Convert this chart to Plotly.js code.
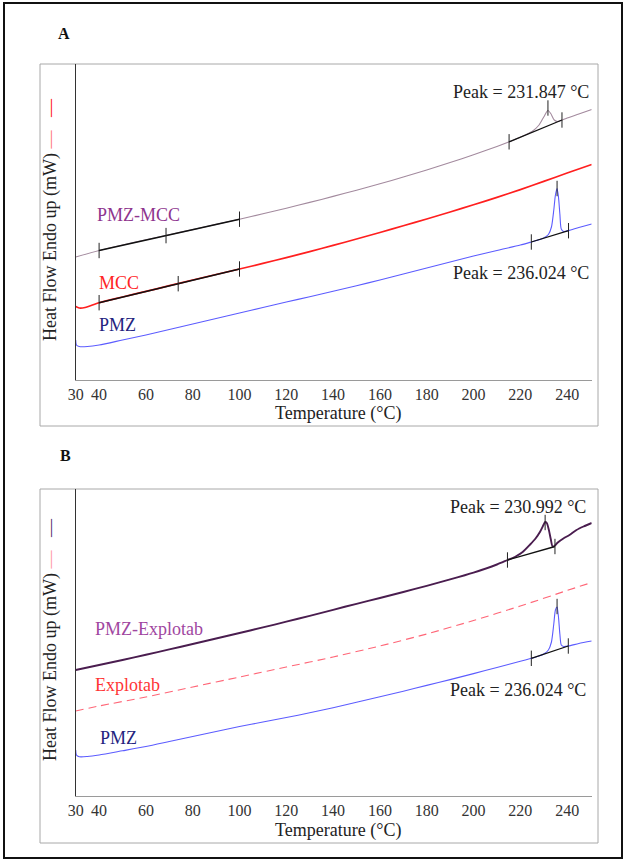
<!DOCTYPE html>
<html>
<head>
<meta charset="utf-8">
<script src="https://cdn.plot.ly/plotly-3.0.1.min.js"></script>
<style>html,body{margin:0;padding:0;background:#fff;}#chart{width:629px;height:863px;}</style>
</head>
<body>
<div id="chart"></div>
<script>
// ---------- tick labels ----------
const tickVals = [30, 40, 60, 80, 100, 120, 140, 160, 180, 200, 220, 240];
const tickText = ["30", "40", "60", "80", "100", "120", "140", "160", "180", "200", "220", "240"];

// ---------- Panel A ----------
const tA_pmzmcc = [30,40,50,60,70,80,90,100,110,120,130,140,150,160,170,180,190,200,210,215,220,225,228,230,231.8,233,234.5,236,238,240,245,250.5];
const yA_pmzmcc = [12.3,12.95,13.5,14.02,14.53,15.04,15.56,16.08,16.62,17.18,17.76,18.36,18.98,19.62,20.3,21.0,21.74,22.52,23.35,23.8,24.28,24.85,25.5,26.3,26.95,26.65,26.0,25.85,26.0,26.2,26.6,27.05];

const tA_mcc = [30,31.5,34,40,50,60,70,80,90,100,110,120,130,140,150,160,170,180,190,200,210,220,230,240,250.5];
const yA_mcc = [7.35,7.2,7.25,7.73,8.3,8.86,9.43,10.0,10.55,11.1,11.66,12.24,12.84,13.46,14.1,14.75,15.42,16.1,16.8,17.52,18.26,19.04,19.86,20.7,21.55];

const tA_pmz = [30,30.3,31.5,35,40,50,60,70,80,90,100,110,120,130,140,150,160,170,180,190,200,210,220,224.7,228,230,232,233.3,234.3,235.0,235.7,236.3,236.9,237.5,238.5,240.6,245,250.5];
const yA_pmz = [4.0,3.5,3.35,3.35,3.5,4.0,4.5,5.05,5.6,6.15,6.7,7.25,7.8,8.33,8.87,9.43,10.0,10.6,11.2,11.8,12.4,12.95,13.5,13.8,14.02,14.2,14.55,15.3,17.0,18.5,19.15,18.3,16.6,15.1,14.85,14.93,15.25,15.6];

// tangent / onset analysis lines, panel A
const tA_tan1 = [40, 100];        const yA_tan1 = [12.95, 16.08];
const tA_tan1m = [40, 68.6, 100]; const yA_tan1m = [12.95, 14.44, 16.08];
const tA_tan2 = [215.2, 237.8];   const yA_tan2 = [23.82, 26.0];
const tA_tan2m = [215.2, 231.8, 237.8]; const yA_tan2m = [23.82, 27.2, 26.0];
const tA_tan3 = [40, 100];        const yA_tan3 = [7.73, 11.1];
const tA_tan3m = [40, 73.8, 100]; const yA_tan3m = [7.73, 9.63, 11.1];
const tA_tan4 = [224.7, 240.6];   const yA_tan4 = [13.8, 14.93];
const tA_tan4m = [224.7, 235.7, 240.6]; const yA_tan4m = [13.8, 19.15, 14.93];

// ---------- Panel B ----------
const tB_pmzexp = [30,40,50,60,70,80,90,100,110,120,130,140,150,160,170,180,190,200,210,214.5,218,221,224.2,226.5,228.5,230,230.6,231.3,232.2,233,233.8,234.8,236,238.4,241,244,247,250.5];
const yB_pmzexp = [12.6,13.1,13.6,14.13,14.66,15.2,15.75,16.3,16.86,17.43,18.02,18.62,19.22,19.8,20.4,21.02,21.66,22.34,23.15,23.6,23.95,24.4,25.15,25.75,26.45,27.15,27.4,27.3,26.6,25.7,24.95,25.05,25.35,25.75,26.1,26.6,26.95,27.3];

const tB_exp = [30,40,60,80,100,120,140,160,180,200,220,240,250.5];
const yB_exp = [8.5,9.0,9.9,10.9,11.9,12.9,13.9,15.0,16.2,17.55,19.0,20.55,21.35];

const tB_pmz = [30,30.3,31.5,35,40,50,60,70,80,90,100,110,120,130,140,150,160,170,180,190,200,210,220,224.7,228,230,232,233.3,234.3,235.0,235.7,236.3,236.9,237.5,238.5,240.5,245,250.5];
const yB_pmz = [4.6,4.1,3.93,3.95,4.1,4.52,4.95,5.45,5.95,6.45,6.95,7.4,7.85,8.32,8.83,9.37,9.92,10.48,11.06,11.64,12.24,12.85,13.47,13.77,14.0,14.2,14.6,15.4,17.2,18.6,18.9,17.9,16.2,15.1,14.95,15.0,15.25,15.5];

const tB_tan1 = [214.5, 234.8];   const yB_tan1 = [23.6, 24.95];
const tB_tan1m = [214.5, 230.6, 234.8]; const yB_tan1m = [23.6, 27.35, 24.95];
const tB_tan2 = [224.7, 240.5];   const yB_tan2 = [13.77, 15.0];
const tB_tan2m = [224.7, 235.7, 240.5]; const yB_tan2m = [13.77, 18.95, 15.0];

// ---------- helpers ----------
const W = 629, H = 863;
const PX = x => x / W;
const PY = y => 1 - y / H;
const SERIF = "Liberation Serif, Times New Roman, serif";

function line(x, y, color, width, xa, ya, dash, smooth) {
  return {x: x, y: y, type: 'scatter', mode: 'lines', xaxis: xa, yaxis: ya,
          line: {color: color, width: width, dash: dash || 'solid', shape: smooth ? 'spline' : 'linear', smoothing: 0.7},
          hoverinfo: 'skip', showlegend: false};
}
function marks(x, y, xa, ya) {
  return {x: x, y: y, type: 'scatter', mode: 'markers', xaxis: xa, yaxis: ya,
          marker: {symbol: 'line-ns', size: 11, line: {color: '#222', width: 1}}, hoverinfo: 'skip', showlegend: false};
}

const data = [
  line(tA_pmzmcc, yA_pmzmcc, '#a38a9e', 1.1, 'x', 'y', null, true),
  line(tA_mcc, yA_mcc, '#ff1f1f', 1.7, 'x', 'y', null, true),
  line(tA_pmz, yA_pmz, '#5c5cff', 1.1, 'x', 'y', null, true),
  line(tA_tan1, yA_tan1, '#111', 1.4, 'x', 'y'), marks(tA_tan1m, yA_tan1m, 'x', 'y'),
  line(tA_tan2, yA_tan2, '#111', 1.3, 'x', 'y'), marks(tA_tan2m, yA_tan2m, 'x', 'y'),
  line(tA_tan3, yA_tan3, '#111', 1.4, 'x', 'y'), marks(tA_tan3m, yA_tan3m, 'x', 'y'),
  line(tA_tan4, yA_tan4, '#111', 1.3, 'x', 'y'), marks(tA_tan4m, yA_tan4m, 'x', 'y'),

  line(tB_pmzexp, yB_pmzexp, '#4a1d4f', 1.9, 'x2', 'y2', null, true),
  line(tB_exp, yB_exp, '#ff6677', 1.1, 'x2', 'y2', '8px,5px', true),
  line(tB_pmz, yB_pmz, '#5c5cff', 1.1, 'x2', 'y2', null, true),
  line(tB_tan1, yB_tan1, '#111', 1.3, 'x2', 'y2'), marks(tB_tan1m, yB_tan1m, 'x2', 'y2'),
  line(tB_tan2, yB_tan2, '#111', 1.3, 'x2', 'y2'), marks(tB_tan2m, yB_tan2m, 'x2', 'y2')
];

function xAxis(anchor) {
  return {domain: [PX(75.7), PX(591.7)], range: [30, 250.5], anchor: anchor,
          tickmode: 'array', tickvals: tickVals, ticktext: tickText,
          showline: true, linecolor: '#9a9a9a', linewidth: 1, mirror: false,
          ticks: '', ticklen: 0,
          showgrid: false, zeroline: false, fixedrange: true,
          tickfont: {family: SERIF, size: 16, color: '#333'}};
}
function yAxis(anchor, dom, rng) {
  return {domain: dom, range: rng, anchor: anchor, showline: true, linecolor: '#333', linewidth: 1,
          showticklabels: false, ticks: '', showgrid: false, zeroline: false, fixedrange: true};
}

function txt(text, x, y, opts) {
  return Object.assign({text: text, x: PX(x), y: PY(y), xref: 'paper', yref: 'paper', showarrow: false,
          xanchor: 'center', yanchor: 'middle', font: {family: SERIF, size: 18, color: '#222'}}, opts || {});
}
const NB = '\u00a0';

const annotations = [
  txt('<b>A</b>', 64, 33, {font: {family: SERIF, size: 16, color: '#111'}}),
  txt('<b>B</b>', 65, 456, {font: {family: SERIF, size: 16, color: '#111'}}),
  txt('Temperature (°C)', 338, 414),
  txt('Temperature (°C)', 338, 830),
  txt('Heat Flow Endo up (mW) <span style="color:#ff7878">—</span>' + NB + NB + NB + '<span style="color:#ff1010">—</span>', 50, 220, {textangle: -90}),
  txt('Heat Flow Endo up (mW) <span style="color:#ff9aa5">—</span>' + NB + NB + NB + '<span style="color:#5a2a6a">—</span>', 50, 640, {textangle: -90}),
  txt('Peak = 231.847 °C', 591, 92, {xanchor: 'right'}),
  txt('Peak = 236.024 °C', 591, 273, {xanchor: 'right'}),
  txt('Peak = 230.992 °C', 588, 507, {xanchor: 'right'}),
  txt('Peak = 236.024 °C', 588, 690, {xanchor: 'right'}),
  txt('PMZ-MCC', 95, 215, {xanchor: 'left', font: {family: SERIF, size: 18, color: '#8e358e'}}),
  txt('MCC', 97, 283, {xanchor: 'left', font: {family: SERIF, size: 18, color: '#ff2424'}}),
  txt('PMZ', 97, 325, {xanchor: 'left', font: {family: SERIF, size: 18, color: '#24247e'}}),
  txt('PMZ-Explotab', 93, 629, {xanchor: 'left', font: {family: SERIF, size: 18, color: '#a046a0'}}),
  txt('Explotab', 93, 685, {xanchor: 'left', font: {family: SERIF, size: 18, color: '#ff3535'}}),
  txt('PMZ', 98, 738, {xanchor: 'left', font: {family: SERIF, size: 18, color: '#24247e'}})
];

function rect(x0, y0, x1, y1, color, width) {
  return {type: 'rect', xref: 'paper', yref: 'paper', x0: PX(x0), x1: PX(x1), y0: PY(y0), y1: PY(y1),
          line: {color: color, width: width}, fillcolor: 'rgba(0,0,0,0)', layer: 'below'};
}
const shapes = [
  rect(4, 3, 622, 858, '#111', 2),
  rect(40, 64, 598, 426, '#a8a8a8', 1),
  rect(40, 489, 598, 843, '#a8a8a8', 1)
];

const layout = {
  width: W, height: H, margin: {l: 0, r: 0, t: 0, b: 0},
  paper_bgcolor: '#ffffff', plot_bgcolor: 'rgba(0,0,0,0)',
  showlegend: false,
  xaxis: xAxis('y'),
  yaxis: yAxis('x', [PY(380), PY(64)], [0, 31.6]),
  xaxis2: xAxis('y2'),
  yaxis2: yAxis('x2', [PY(796), PY(489)], [0, 30.7]),
  annotations: annotations,
  shapes: shapes
};

Plotly.newPlot('chart', data, layout, {displayModeBar: false, staticPlot: true});
</script>
</body>
</html>
